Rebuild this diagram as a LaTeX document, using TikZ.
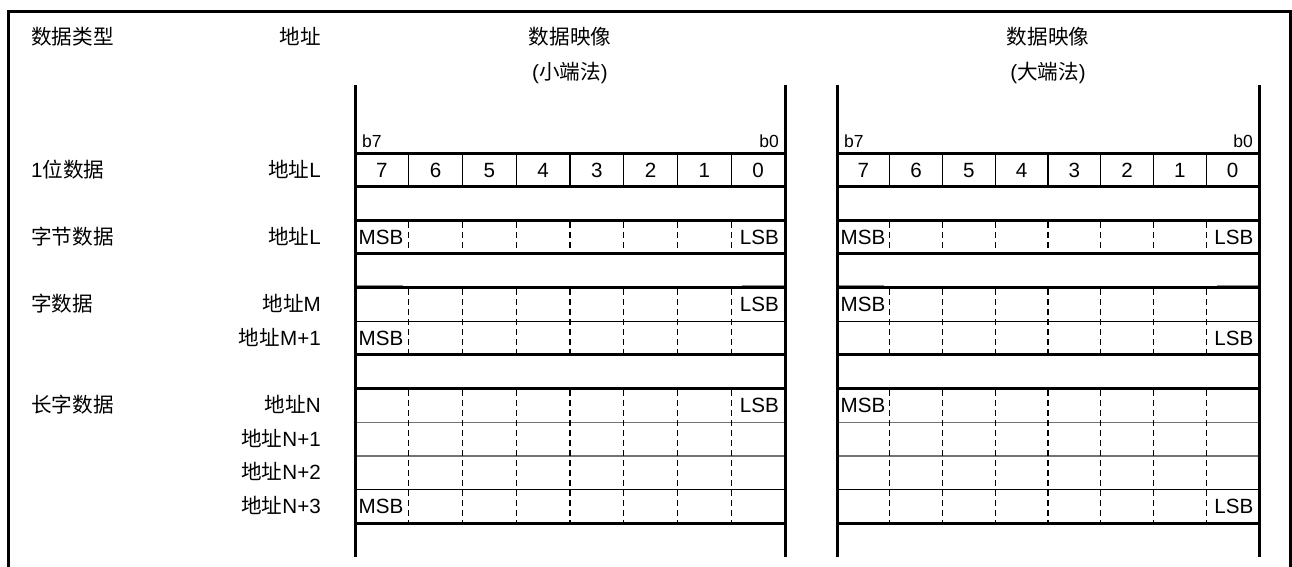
\documentclass[tikz,border=0pt]{standalone}
\usepackage{fontspec}
\setmainfont{Liberation Sans}
\newfontfamily\cjk{Noto Sans CJK SC}
\newcommand\zh[1]{{\cjk #1}}
\begin{document}
\begin{tikzpicture}[x=1pt,y=-1pt,
  txt/.style={font=\fontsize{20.6}{24}\selectfont, inner sep=0pt, anchor=base},
  txtw/.style={txt, anchor=base west},
  txte/.style={txt, anchor=base east},
  smalltxt/.style={font=\fontsize{17.5}{20}\selectfont, inner sep=0pt},
  heavy/.style={line width=3pt, line cap=butt},
  frameline/.style={line width=3.2pt, line join=miter},
  thinline/.style={line width=1.3pt},
  greyline/.style={line width=1.3pt, draw=black!55},
  dashline/.style={line width=1.1pt, dash pattern=on 6pt off 4pt},
  ghost/.style={line width=1.5pt, draw=black!45}]
\useasboundingbox (0,0) rectangle (1292,566);
% outer frame
\draw[frameline] (8.5,570) -- (8.5,11.5) -- (1290.5,11.5) -- (1290.5,570);

% left headers
\node[txtw] (hType) at (31,44.6) {\zh{数据类型}};
\node[txte] (hAddr) at (321,44.6) {\zh{地址}};

% row labels
\node[txtw] (t1) at (31,177) {1\zh{位数据}};
\node[txtw] (t2) at (31,244.3) {\zh{字节数据}};
\node[txtw] (t3) at (31,311.6) {\zh{字数据}};
\node[txtw] (t4) at (31,412.6) {\zh{长字数据}};

\node[txte] (a1) at (321,177) {\zh{地址}L};
\node[txte] (a2) at (321,244.3) {\zh{地址}L};
\node[txte] (a3) at (321,311.6) {\zh{地址}M};
\node[txte] (a4) at (321,345.3) {\zh{地址}M+1};
\node[txte] (a5) at (321,412.6) {\zh{地址}N};
\node[txte] (a6) at (321,446.1) {\zh{地址}N+1};
\node[txte] (a7) at (321,479.7) {\zh{地址}N+2};
\node[txte] (a8) at (321,513.6) {\zh{地址}N+3};

\foreach \s/\xa/\w/\hd in {L/355/53.75/小端法, R/837/52.75/大端法} {
  \pgfmathsetmacro\xb{\xa+8*\w}
  \pgfmathsetmacro\xc{\xa+4*\w}
  \node[txt] (m1\s) at (\xc,44.6) {\zh{数据映像}};
  \node[txt] (m2\s) at (\xc,79.5) {(\zh{\hd})};
  % ghost segments
  \draw[ghost] (\xa,285.3) -- ({\xa+0.9*\w},285.3);
  \draw[ghost] ({\xb-0.8*\w},285.3) -- (\xb,285.3);
  % thin horizontals
  \draw[thinline] (\xa,{153+33.65*5}) -- (\xb,{153+33.65*5});
  \draw[thinline] (\xa,{153+33.65*10}) -- (\xb,{153+33.65*10});
  \draw[greyline] (\xa,{153+33.65*8}) -- (\xb,{153+33.65*8});
  \draw[greyline] (\xa,{153+33.65*9}) -- (\xb,{153+33.65*9});
  % thick horizontals
  \foreach \k in {0,1,2,3,4,6,7,11}
    \draw[heavy] (\xa,{153+33.65*\k}) -- (\xb,{153+33.65*\k});
  % solid column lines of bit row
  \foreach \j in {1,...,7}
    \draw[thinline] ({\xa+\j*\w},153) -- ({\xa+\j*\w},186.65);
  % dashed column lines
  \foreach \j in {1,...,7}
    \foreach \ra/\rb in {2/3,4/6,7/11}
      \draw[dashline] ({\xa+\j*\w},{153+33.65*\ra+1.5}) -- ({\xa+\j*\w},{153+33.65*\rb-1.5});
  % vertical borders
  \draw[heavy] (\xa,85) -- (\xa,557);
  \draw[heavy] (\xb,85) -- (\xb,557);
  % bit labels
  \node[smalltxt, anchor=base west] (b7\s) at ({\xa+7},147) {b7};
  \node[smalltxt, anchor=base east] (b0\s) at ({\xb-6},147) {b0};
  \foreach \j in {0,...,7}
    \node[txt] (bit\s\j) at ({\xa+(\j+0.5)*\w},177.3) {\pgfmathparse{int(7-\j)}\pgfmathresult};
}

% little endian
\node[txtw] (lm1) at (358.5,244.3) {MSB};
\node[txte] (ll1) at (779,244.3) {LSB};
\node[txte] (ll2) at (779,311.6) {LSB};
\node[txtw] (lm2) at (358.5,345.3) {MSB};
\node[txte] (ll3) at (779,412.6) {LSB};
\node[txtw] (lm3) at (358.5,513.6) {MSB};
% big endian
\node[txtw] (bm1) at (840.5,244.3) {MSB};
\node[txte] (bl1) at (1253.5,244.3) {LSB};
\node[txtw] (bm2) at (840.5,311.6) {MSB};
\node[txte] (bl2) at (1253.5,345.3) {LSB};
\node[txtw] (bm3) at (840.5,412.6) {MSB};
\node[txte] (bl3) at (1253.5,513.6) {LSB};
\end{tikzpicture}
\end{document}
